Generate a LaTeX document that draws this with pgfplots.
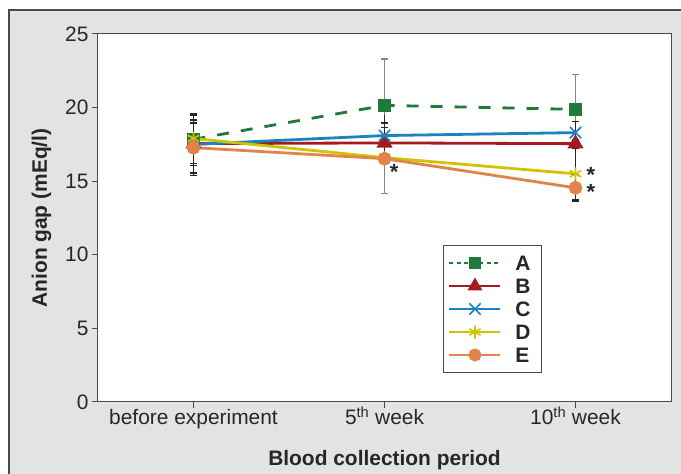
\documentclass[border=0pt]{standalone}
\usepackage{pgfplots}
\pgfplotsset{compat=1.18}
\usepackage{fontspec}
\setmainfont{Liberation Sans}
\definecolor{cA}{HTML}{21793A}
\definecolor{cB}{HTML}{A31A22}
\definecolor{cC}{HTML}{1A83C3}
\definecolor{cD}{HTML}{D2C300}
\definecolor{cE}{HTML}{E0844C}
\definecolor{bgray}{HTML}{E3E3E3}
\definecolor{axgray}{HTML}{4A4A4A}
\definecolor{ebgray}{HTML}{858585}
\definecolor{ebdark}{HTML}{262626}

\pgfplotstableread{
x y
0 17.85
1 20.15
2 19.88
}\tA
\pgfplotstableread{
x y
0 17.55
1 17.60
2 17.55
}\tB
\pgfplotstableread{
x y
0 17.50
1 18.10
2 18.30
}\tC
\pgfplotstableread{
x y
0 17.90
1 16.60
2 15.50
}\tD
\pgfplotstableread{
x y
0 17.28
1 16.53
2 14.55
}\tE

\pgfplotsset{
  ebar/.style={forget plot, #1, line width=1.6bp, mark=-, mark size=3.5bp,
    mark options={#1, line width=1.4bp}},
  eline/.style={forget plot, #1, line width=1.6bp, mark=none},
  ecap/.style={forget plot, #1, only marks, mark=-, mark size=3.5bp,
    mark options={#1, line width=1.4bp}},
}

\begin{document}
\begin{tikzpicture}[x=1bp,y=1bp]
\useasboundingbox (-98,-72) rectangle (583,402);
\fill[bgray] (-89,-120) rectangle (620,392);
\draw[axgray, line width=1.3bp] (-89,-120) -- (-89,392) -- (620,392);
\begin{axis}[
  at={(0,0)}, anchor=south west,
  scale only axis, width=573bp, height=368bp,
  xmin=-0.5, xmax=2.5, ymin=0, ymax=25,
  xtick={0,1,2},
  xticklabels={before experiment, 5\textsuperscript{th} week, 10\textsuperscript{th} week},
  ytick={0,5,...,25},
  tick align=outside, xtick pos=bottom, ytick pos=left,
  major tick length=6bp,
  axis line style={axgray, line width=1bp},
  every tick/.style={axgray, line width=1bp},
  axis background/.style={fill=white},
  /pgf/number format/assume math mode=true,
  tick label style={font=\fontsize{21}{24}\selectfont, text=ebdark},
  xticklabel style={text height=15bp, text depth=4bp, yshift=2bp},
  xlabel={Blood collection period},
  ylabel={Anion gap (mEq/l)},
  label style={font=\bfseries\fontsize{21}{24}\selectfont, text=ebdark},
  xlabel style={at={(axis description cs:0.5,0)}, anchor=base, yshift=-63.7bp},
  ylabel style={at={(axis description cs:-0.089,0.5)}, anchor=base},
  legend style={at={(axis description cs:0.602,0.4266)}, anchor=north west,
    draw=axgray, line width=1bp, fill=white, inner xsep=5bp, inner ysep=6bp,
    font=\bfseries\fontsize{21}{24}\selectfont, text=ebdark,
    nodes={text height=15bp, text depth=0bp, inner ysep=4bp, inner xsep=6bp},
    column sep=8bp,
    cells={anchor=west}},
  legend image code/.code={\draw[mark repeat=2,mark phase=2,#1] plot coordinates {(0bp,0bp) (25.5bp,0bp) (51bp,0bp)};},
]
% ---- error bars, before experiment (all overlapping, dark)
\addplot[ebar=ebdark] coordinates {(0,16.05) (0,19.60)};
\addplot[ebar=ebdark] coordinates {(0,15.55) (0,19.50)};
\addplot[ebar=ebdark] coordinates {(0,16.05) (0,18.95)};
\addplot[ebar=ebdark] coordinates {(0,16.20) (0,19.60)};
\addplot[ebar=ebdark] coordinates {(0,15.40) (0,19.16)};
% ---- error bars, 5th week
\addplot[ebar=ebgray] coordinates {(1,14.17) (1,23.30)};
\addplot[eline=ebdark] coordinates {(1,16.50) (1,19.50)};
\addplot[ecap=ebdark] coordinates {(1,18.94) (1,18.64)};
% ---- error bars, 10th week
\addplot[ebar=ebgray] coordinates {(2,17.53) (2,22.23)};
\addplot[ebar=ebdark] coordinates {(2,17.55) (2,19.05)};
\addplot[ebar=ebdark] coordinates {(2,17.25) (2,17.85)};
\addplot[ebar=ebdark] coordinates {(2,13.75) (2,17.25)};
\addplot[ebar=ebdark] coordinates {(2,13.65) (2,15.45)};
% ---- series
\addplot[cA, line width=2.8bp, dash pattern=on 12bp off 12bp, mark=square*, mark size=5bp, mark options={solid, fill=cA},
  legend image post style={dash pattern=on 4bp off 3.5bp, line width=2bp}] table[x=x,y=y] {\tA};
\addlegendentry{A}
\addplot[cB, line width=2.8bp, mark=triangle*, mark size=6.5bp, mark options={fill=cB},
  legend image post style={line width=2bp}] table[x=x,y=y] {\tB};
\addlegendentry{B}
\addplot[cC, line width=2.8bp, mark=x, mark size=8bp, mark options={line width=1.6bp},
  legend image post style={line width=2bp}] table[x=x,y=y] {\tC};
\addlegendentry{C}
\addplot[cD, line width=2.8bp, mark=asterisk, mark size=6.5bp, mark options={line width=1.6bp},
  legend image post style={line width=2bp}] table[x=x,y=y] {\tD};
\addlegendentry{D}
\addplot[cE, line width=2.8bp, mark=*, mark size=5.5bp, mark options={fill=cE},
  legend image post style={line width=2bp}] table[x=x,y=y] {\tE};
\addlegendentry{E}
\node[font=\bfseries\fontsize{22}{24}\selectfont, text=ebdark] at (axis cs:1.05,15.6) {*};
\node[font=\bfseries\fontsize{22}{24}\selectfont, text=ebdark] at (axis cs:2.08,15.4) {*};
\node[font=\bfseries\fontsize{22}{24}\selectfont, text=ebdark] at (axis cs:2.08,14.25) {*};
\end{axis}
\end{tikzpicture}
\end{document}
